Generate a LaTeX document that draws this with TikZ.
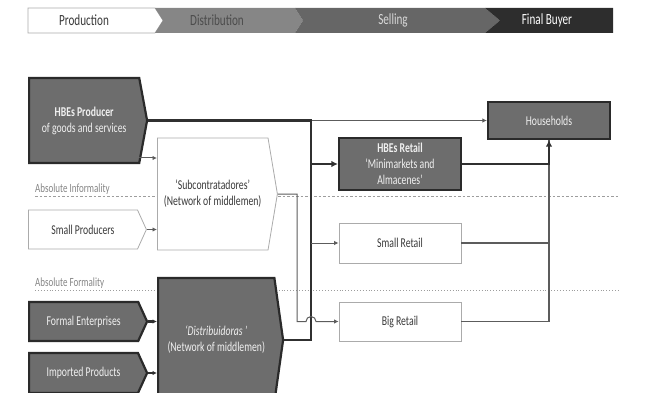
\documentclass[tikz,border=0pt]{standalone}
\usepackage{fontspec}
\setmainfont{Carlito}[FakeStretch=0.72]
\usetikzlibrary{arrows.meta,positioning,calc,shapes.symbols}
\definecolor{boxdark}{HTML}{6D6D6D}
\definecolor{edgedark}{HTML}{2A2A2A}
\definecolor{edgelight}{HTML}{ABABAB}
\definecolor{inktext}{HTML}{3A3A3A}
\definecolor{zonegray}{HTML}{858585}
\definecolor{stagemid}{HTML}{868686}
\definecolor{stagedeep}{HTML}{666666}
\definecolor{stageend}{HTML}{2D2D2D}
\definecolor{flowline}{HTML}{303030}
\definecolor{linkgray}{HTML}{5C5C5C}
\tikzset{
  actor/.style={draw=edgedark, line width=2.2pt, fill=boxdark, text=white!94!black, align=center, inner sep=2pt, font=\fontsize{13.5}{16}\selectfont},
  actorw/.style={actor, draw=edgelight, line width=.8pt, fill=white, text=inktext},
  sig/.style={signal, signal to=east, anchor=west},
  stagetxt/.style={font=\fontsize{15.5}{18}\selectfont, inner sep=0pt},
  zonelbl/.style={font=\fontsize{12.5}{14}\selectfont, text=zonegray, inner sep=0pt, anchor=base west},
  zoneln/.style={draw=zonegray!80, line width=.9pt},
  thickln/.style={draw=flowline, line width=2.2pt},
  thinln/.style={draw=linkgray, line width=1pt},
  arr/.style={-{Latex[length=4.5pt,width=4.5pt]}},
  arrb/.style={-{Latex[length=6.5pt,width=6.5pt]}},
}
\begin{document}
\begin{tikzpicture}[x=1pt, y=-1pt]
\useasboundingbox (0,0) rectangle (648,393);
% stage banner
\foreach \xa/\xb/\nl/\tp/\fc/\dc/\tc/\tx/\lbl [count=\k] in {
  28/155/0/8/white/edgelight/inktext/84/Production,
  155/295/8/8/stagemid/none/black!70/217/Distribution,
  295/485/8/15/stagedeep/none/white!85!black/393/Selling,
  485/613/15/0/stageend/none/white/547/Final Buyer}{
  \filldraw[fill=\fc, draw=\dc, line width=.6pt] (\xa,8) -- (\xb,8) -- (\xb+\tp,20.5) -- (\xb,33) -- (\xa,33) -- (\xa+\nl,20.5) -- cycle;
  \node[stagetxt, text=\tc] (stage\k) at (\tx,20.5) {\lbl};
}
% zones
\draw[zoneln, dash pattern=on 2.5pt off 2pt] (35,196) -- (618,196);
\draw[zoneln, dotted] (35,290) -- (618,290);
\node[zonelbl] (infml) at (35,192) {Absolute Informality};
\node[zonelbl] (fml) at (35,286) {Absolute Formality};
% producers
\node[actor, sig, minimum width=118pt, minimum height=85pt, signal pointer angle=159] (prod) at (28,120.5) {\textbf{HBEs Producer}\\of goods and services};
\node[actorw, sig, minimum width=118pt, minimum height=39pt, signal pointer angle=131] (small) at (28,229.5) {Small Producers};
\node[actor, sig, minimum width=118pt, minimum height=39pt, signal pointer angle=131] (formal) at (28,321.5) {Formal Enterprises};
\node[actor, sig, minimum width=118pt, minimum height=40pt, signal pointer angle=131] (import) at (28,373) {Imported Products};
% middlemen
\node[actorw, sig, minimum width=120pt, minimum height=112pt, signal pointer angle=161] (subc) at (157,194) {`Subcontratadores'\\(Network of middlemen)};
\node[actor, sig, minimum width=125pt, minimum height=124pt, signal pointer angle=164] (distr) at (157,340) {\textit{`Distribuidoras '}\\(Network of middlemen)};
% sellers and buyer
\node[actor, minimum width=122pt, minimum height=52pt] (hret) at (400,164) {\textbf{HBEs Retail}\\`Minimarkets and\\Almacenes'};
\node[actorw, minimum width=122pt, minimum height=40pt] (sret) at (400,243) {Small Retail};
\node[actorw, minimum width=122pt, minimum height=39pt] (bret) at (400,321.5) {Big Retail};
\node[actor, minimum width=122pt, minimum height=37pt] (hhold) at (549,120.5) {Households};
\coordinate (trunk) at (311,0);
\coordinate (sbx) at (297,0);
\coordinate (pbot) at (139,158);
% flows
\draw[thinln, arr] (pbot) -- (pbot -| subc.west);
\draw[thinln, arr] (small.east) -- (small.east -| subc.west);
\draw[thickln, arr] (formal.east) -- (formal.east -| distr.west);
\draw[thickln, arr] (import.east) -- (import.east -| distr.west);
\draw[thinln, arr] (prod.east -| trunk) -- (hhold.west);
\draw[thickln] (prod.east) -- (prod.east -| trunk) -- (distr.east -| trunk) -- (distr.east);
\draw[thickln, arrb] (hret.west -| trunk) -- (hret.west);
\draw[thinln, arr] (sret.west -| trunk) -- (sret.west);
\draw[thinln, arr] (subc.east) -| (bret.west -| sbx) -- ([xshift=-5pt]bret.west -| trunk) arc[start angle=180, end angle=0, radius=5pt] -- (bret.west);
\draw[thinln, line width=1.3pt] (bret.east) -| (hhold.south);
\draw[thinln, line width=1.3pt] (sret.east) -- (sret.east -| hhold.south);
\draw[thickln, arrb] (hret.east) -| (hhold.south);
\end{tikzpicture}
\end{document}
